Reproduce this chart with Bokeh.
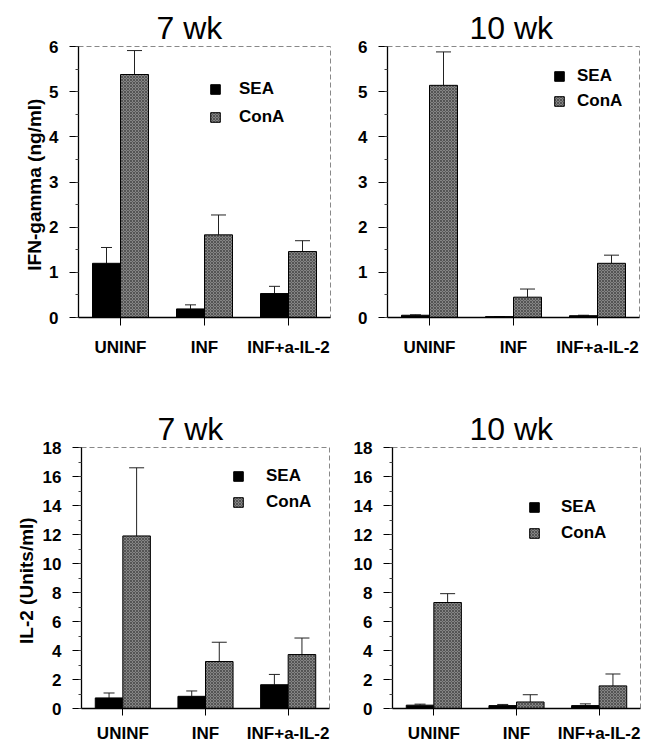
from bokeh.plotting import figure
from bokeh.models import (FactorRange, Range1d, SingleIntervalTicker, Legend,
                          LegendItem, ColumnDataSource)
from bokeh.transform import dodge
from bokeh.layouts import column, row
from bokeh.embed import file_html
from bokeh.resources import INLINE

categories = ["UNINF", "INF", "INF+a-IL-2"]
series = ["SEA", "ConA"]

# IFN-gamma (ng/ml), 7 wk
ifn7_sea = [1.20, 0.19, 0.53]
ifn7_sea_err = [0.35, 0.09, 0.16]
ifn7_cona = [5.38, 1.83, 1.46]
ifn7_cona_err = [0.53, 0.44, 0.24]

# IFN-gamma (ng/ml), 10 wk
ifn10_sea = [0.05, 0.02, 0.04]
ifn10_sea_err = [0.01, 0.0, 0.01]
ifn10_cona = [5.14, 0.45, 1.20]
ifn10_cona_err = [0.74, 0.18, 0.18]

# IL-2 (Units/ml), 7 wk
il7_sea = [0.73, 0.84, 1.64]
il7_sea_err = [0.34, 0.37, 0.71]
il7_cona = [11.9, 3.24, 3.72]
il7_cona_err = [4.7, 1.33, 1.14]

# IL-2 (Units/ml), 10 wk
il10_sea = [0.23, 0.20, 0.20]
il10_sea_err = [0.07, 0.08, 0.12]
il10_cona = [7.31, 0.45, 1.56]
il10_cona_err = [0.61, 0.50, 0.82]

FONT = "Liberation Sans"
BW = 1.0 / 3.0


def panel(title, sea, sea_err, cona, cona_err, ymax, yint, ylabel,
          width, height, bl, br, bt, bb, title_off, leg_loc, leg_spacing,
          leg_standoff, lab_standoff, tick_out, ylab_standoff):
    src = ColumnDataSource(dict(
        cat=categories,
        sea=sea, sea_up=[v + e for v, e in zip(sea, sea_err)],
        cona=cona, cona_up=[v + e for v, e in zip(cona, cona_err)],
    ))
    p = figure(x_range=FactorRange(*categories), y_range=Range1d(0, ymax),
               width=width, height=height, output_backend="svg",
               toolbar_location=None, min_border_left=bl, min_border_right=br,
               min_border_top=bt, min_border_bottom=bb)
    p.title.text = title
    p.title.text_font = FONT
    p.title.text_font_size = "32px"
    p.title.text_font_style = "normal"
    p.title.text_color = "black"
    p.title.align = "left"
    p.title.offset = title_off
    p.title.standoff = 1
    p.grid.visible = False
    p.outline_line_color = "#888888"
    p.outline_line_dash = "5 3"
    p.outline_line_width = 1
    p.background_fill_color = "white"
    p.border_fill_color = "white"

    xs = dodge("cat", -BW / 2, range=p.x_range)
    xc = dodge("cat", BW / 2, range=p.x_range)

    # error bars (upper only)
    p.segment(x0=xs, y0="sea", x1=xs, y1="sea_up", source=src,
              line_color="#222222", line_width=1)
    p.scatter(x=xs, y="sea_up", source=src, marker="dash", size=11,
              line_color="#222222", line_width=1)
    p.segment(x0=xc, y0="cona", x1=xc, y1="cona_up", source=src,
              line_color="#222222", line_width=1)
    p.scatter(x=xc, y="cona_up", source=src, marker="dash", size=15,
              line_color="#222222", line_width=1)

    r_sea = p.vbar(x=xs, top="sea", width=BW, source=src,
                   fill_color="black", line_color="black", line_width=1)
    r_cona = p.vbar(x=xc, top="cona", width=BW, source=src,
                    fill_color="#858585", line_color="black", line_width=1,
                    hatch_pattern="diagonal_cross", hatch_color="#333333",
                    hatch_scale=3, hatch_weight=0.7, hatch_alpha=0.85)

    leg = Legend(items=[LegendItem(label=series[0], renderers=[r_sea]),
                        LegendItem(label=series[1], renderers=[r_cona])],
                 location=leg_loc, orientation="vertical",
                 border_line_color=None, background_fill_alpha=0,
                 padding=0, margin=0, spacing=leg_spacing,
                 glyph_width=12, glyph_height=12, label_height=20,
                 label_standoff=leg_standoff,
                 label_text_font=FONT, label_text_font_size="17px",
                 label_text_font_style="bold", label_text_color="black")
    p.add_layout(leg, "center")

    p.yaxis.ticker = SingleIntervalTicker(interval=yint, num_minor_ticks=2)
    p.yaxis.axis_label = ylabel
    p.yaxis.axis_label_text_font = FONT
    p.yaxis.axis_label_text_font_size = "19px"
    p.yaxis.axis_label_text_font_style = "bold"
    p.yaxis.axis_label_text_color = "black"
    p.yaxis.axis_label_standoff = ylab_standoff
    for ax in (p.xaxis, p.yaxis):
        ax.axis_line_color = "black"
        ax.axis_line_width = 1.3
        ax.major_tick_line_color = "black"
        ax.major_tick_line_width = 1
        ax.major_tick_in = 0
        ax.minor_tick_in = 0
        ax.major_label_text_font = FONT
        ax.major_label_text_font_size = "17px"
        ax.major_label_text_font_style = "bold"
        ax.major_label_text_color = "black"
    p.yaxis.major_tick_out = 9
    p.yaxis.minor_tick_out = 3
    p.yaxis.minor_tick_line_color = "#444444"
    p.yaxis.major_label_standoff = 11
    p.xaxis.major_tick_out = tick_out
    p.xaxis.major_label_standoff = lab_standoff
    p.xaxis.major_label_orientation = "horizontal"
    return p


tl = panel("7 wk", ifn7_sea, ifn7_sea_err, ifn7_cona, ifn7_cona_err, 6, 1,
           "IFN-gamma  (ng/ml)", 331, 360, 78, 1, 46, 43, 78,
           (131, 190), 8, 18, 12, 8, 1)
tr = panel("10 wk", ifn10_sea, ifn10_sea_err, ifn10_cona, ifn10_cona_err, 6, 1,
           None, 316, 360, 56, 8, 43, 43, 82,
           (166, 206), 5, 12, 12, 8, 1)
bl = panel("7 wk", il7_sea, il7_sea_err, il7_cona, il7_cona_err, 18, 2,
           "IL-2  (Units/ml)", 331, 385, 81, 2, 86, 36, 76,
           (151, 196), 6, 22, 8, 7, 3)
br = panel("10 wk", il10_sea, il10_sea_err, il10_cona, il10_cona_err, 18, 2,
           None, 316, 385, 61, 7, 87, 33, 77,
           (136, 165), 6, 21, 8, 7, 3)

layout = column(row(tl, tr), row(bl, br))
open("out.html", "w").write(file_html(layout, INLINE))
